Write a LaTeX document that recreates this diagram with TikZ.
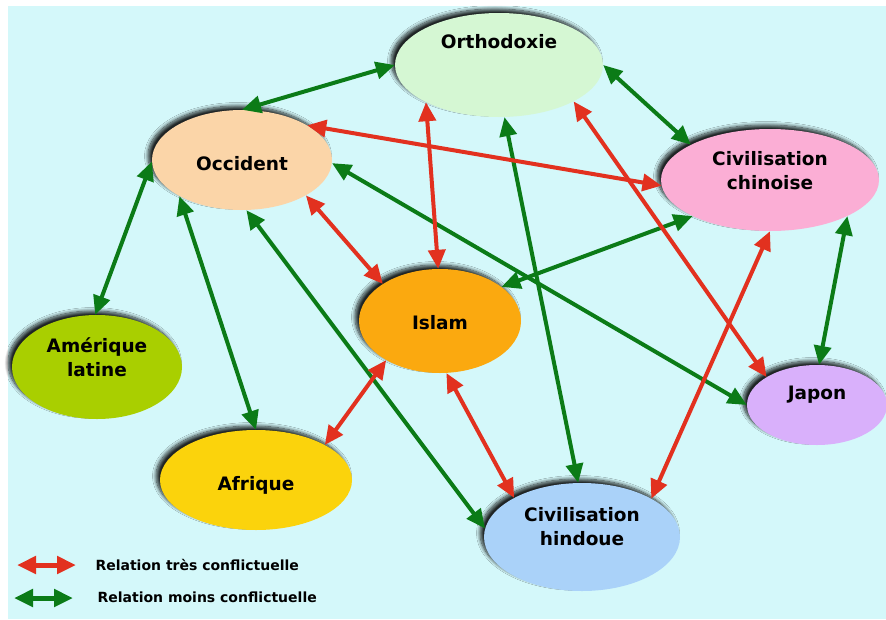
\documentclass[tikz,border=0pt]{standalone}
\usepackage{fontspec}
\setmainfont{DejaVu Sans}
\usetikzlibrary{shapes.geometric,arrows.meta,shadows.blur}
\definecolor{fond}{HTML}{D4F8FA}
\definecolor{rouge}{HTML}{E2311F}
\definecolor{vert}{HTML}{0B7B17}
\definecolor{corth}{HTML}{D5F7D3}
\definecolor{cocc}{HTML}{FBD5A8}
\definecolor{cchin}{HTML}{FBAED5}
\definecolor{cisl}{HTML}{FBA90F}
\definecolor{camlat}{HTML}{A9CF00}
\definecolor{cafr}{HTML}{FBD30C}
\definecolor{chind}{HTML}{AAD2F9}
\definecolor{cjap}{HTML}{D9B0FB}
\begin{document}
\begin{tikzpicture}[x=1pt,y=-1pt]
\tikzstyle{civ}=[ellipse,inner sep=0pt,blur shadow={shadow xshift=-4pt,shadow yshift=4pt,shadow blur radius=3.5pt,shadow blur steps=10,shadow opacity=85}]
\tikzstyle{nom}=[font=\bfseries\fontsize{18.5}{24}\selectfont,align=center]
\tikzstyle{fort}=[rouge,line width=4pt,{Triangle[length=19pt,width=17pt]}-{Triangle[length=19pt,width=17pt]}]
\tikzstyle{faible}=[vert,line width=4pt,{Triangle[length=19pt,width=17pt]}-{Triangle[length=19pt,width=17pt]}]
\tikzstyle{leg}=[font=\bfseries\fontsize{14}{16}\selectfont,anchor=west]
\useasboundingbox (0,0) rectangle (886,619);
\fill[fond] (8,6) rectangle (886,619);
% civilisations
\node[civ,fill=corth,minimum width=208pt,minimum height=104pt,label={[nom,yshift=23pt]center:Orthodoxie}] (orth) at (499,65) {};
\node[civ,fill=cocc,minimum width=180pt,minimum height=100pt,label={[nom,yshift=-4pt]center:Occident}] (occ) at (242,160) {};
\node[civ,fill=cchin,minimum width=218pt,minimum height=102pt,label={[nom,yshift=9pt]center:Civilisation\\chinoise}] (chin) at (770,180) {};
\node[civ,fill=cisl,minimum width=162pt,minimum height=104pt,label={[nom,yshift=-2pt]center:Islam}] (isl) at (440,321) {};
\node[civ,fill=camlat,minimum width=170pt,minimum height=104pt,label={[nom,yshift=10pt]center:Amérique\\latine}] (amlat) at (97,367) {};
\node[civ,fill=cafr,minimum width=192pt,minimum height=100pt,label={[nom,yshift=-5pt]center:Afrique}] (afr) at (256,480) {};
\node[civ,fill=chind,minimum width=196pt,minimum height=108pt,label={[nom,yshift=10pt]center:Civilisation\\hindoue}] (hind) at (582,537) {};
\node[civ,fill=cjap,minimum width=140pt,minimum height=80pt,label={[nom,yshift=10pt]center:Japon}] (jap) at (817,405) {};
% relations moins conflictuelles
\draw[faible] (occ.90) -- (orth.180);
\draw[faible] (orth.0) -- (chin.156);
\draw[faible] (occ.181) -- (amlat.92);
\draw[faible] (occ.210) -- (afr.90);
\draw[faible] (occ.275) -- (hind.175);
\draw[faible] (occ.358) -- (jap.180);
\draw[faible] (orth.276) -- (hind.94);
\draw[faible] (chin.205) -- (isl.29);
\draw[faible] (chin.335) -- (jap.87);
% relations tres conflictuelles
\draw[fort] (occ.28) -- (chin.183);
\draw[fort] (occ.331) -- (isl.147);
\draw[fort] (orth.207) -- (isl.92);
\draw[fort] (orth.334) -- (jap.151);
\draw[fort] (isl.216) -- (afr.27);
\draw[fort] (isl.277) -- (hind.150);
\draw[fort] (chin.270) -- (hind.29);
% legende
\coordinate (r1) at (17,565);
\coordinate (r2) at (76,565);
\coordinate (v1) at (14,598);
\coordinate (v2) at (73,598);
\draw[fort,line width=5pt] (r1) -- (r2);
\draw[faible,line width=5pt] (v1) -- (v2);
\node[leg] (lr) at (92,565) {Relation très conflictuelle};
\node[leg] (lv) at (94,597) {Relation moins conflictuelle};
\end{tikzpicture}
\end{document}
